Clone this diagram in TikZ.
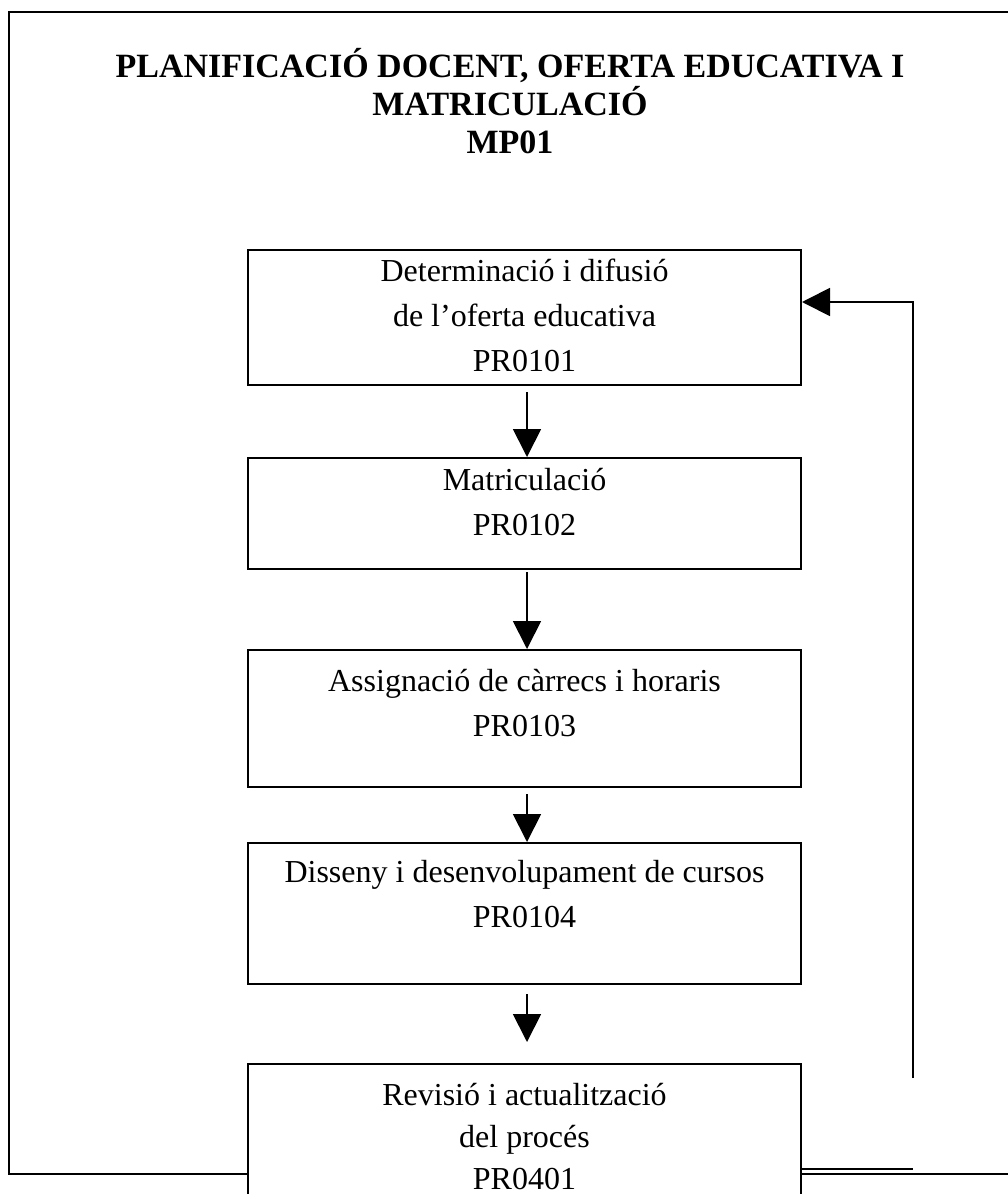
\documentclass[tikz,border=0pt]{standalone}
\usepackage{fontspec}
\setmainfont{Liberation Serif}
\usetikzlibrary{arrows.meta,positioning}

\begin{document}
\begin{tikzpicture}[x=1pt,y=-1pt,>={Triangle[length=28pt,width=28pt]}]
    \tikzstyle{frame}=[draw=black, line width=2pt]
    \tikzstyle{proc}=[draw=black, line width=2pt, fill=white, minimum width=553pt, inner sep=0pt]
    \tikzstyle{txt}=[align=center, inner sep=0pt, font=\fontsize{32}{45}\selectfont]
    \tikzstyle{flow}=[->, line width=1.8pt]

    \useasboundingbox (0,0) rectangle (1007,1194);
    \draw[frame] (9,12) rectangle (1015,1174);

    \node[font=\bfseries\fontsize{34}{38}\selectfont, align=center, inner sep=0pt, anchor=north] (title) at (510,48)
      {PLANIFICACIÓ DOCENT, OFERTA EDUCATIVA I\\MATRICULACIÓ\\MP01};

    \node[proc, minimum height=135pt] (b1) at (524.5,317.5) {};
    \node[proc, minimum height=111pt] (b2) at (524.5,513.5) {};
    \node[proc, minimum height=137pt] (b3) at (524.5,718.5) {};
    \node[proc, minimum height=141pt] (b4) at (524.5,913.5) {};
    \node[proc, minimum height=170pt] (b5) at (524.5,1149)  {};

    \node[txt, below=10pt of b1.north] (t1) {Determinació i difusió\\de l’oferta educativa\\PR0101};
    \node[txt, below=11pt of b2.north] (t2) {Matriculació\\PR0102};
    \node[txt, below=20pt of b3.north] (t3) {Assignació de càrrecs i horaris\\PR0103};
    \node[txt, below=18pt of b4.north] (t4) {Disseny i desenvolupament de cursos\\PR0104};
    \node[txt, font=\fontsize{32}{42}\selectfont, below=20pt of b5.north] (t5) {Revisió i actualització\\del procés\\PR0401};

    \path
     ([xshift=2.5pt]b1.south) edge[flow,shorten <=6pt] ([xshift=2.5pt]b2.north)
     ([xshift=2.5pt]b2.south) edge[flow,shorten <=2pt] ([xshift=2.5pt]b3.north)
     ([xshift=2.5pt]b3.south) edge[flow,shorten <=6pt] ([xshift=2.5pt]b4.north)
     ([xshift=2.5pt]b4.south) edge[flow,shorten <=9pt,shorten >=21pt] ([xshift=2.5pt]b5.north)
     ;

    % return to the first step
    \coordinate (ret) at (913,1169);
    \coordinate (up1) at (913,1078);
    \coordinate (up2) at (913,302);
    \draw[line width=1.5pt] (b5.east |- ret) -- (ret);
    \draw[flow] (up1) -- (up2) -- (up2 -| b1.east);
\end{tikzpicture}
\end{document}
